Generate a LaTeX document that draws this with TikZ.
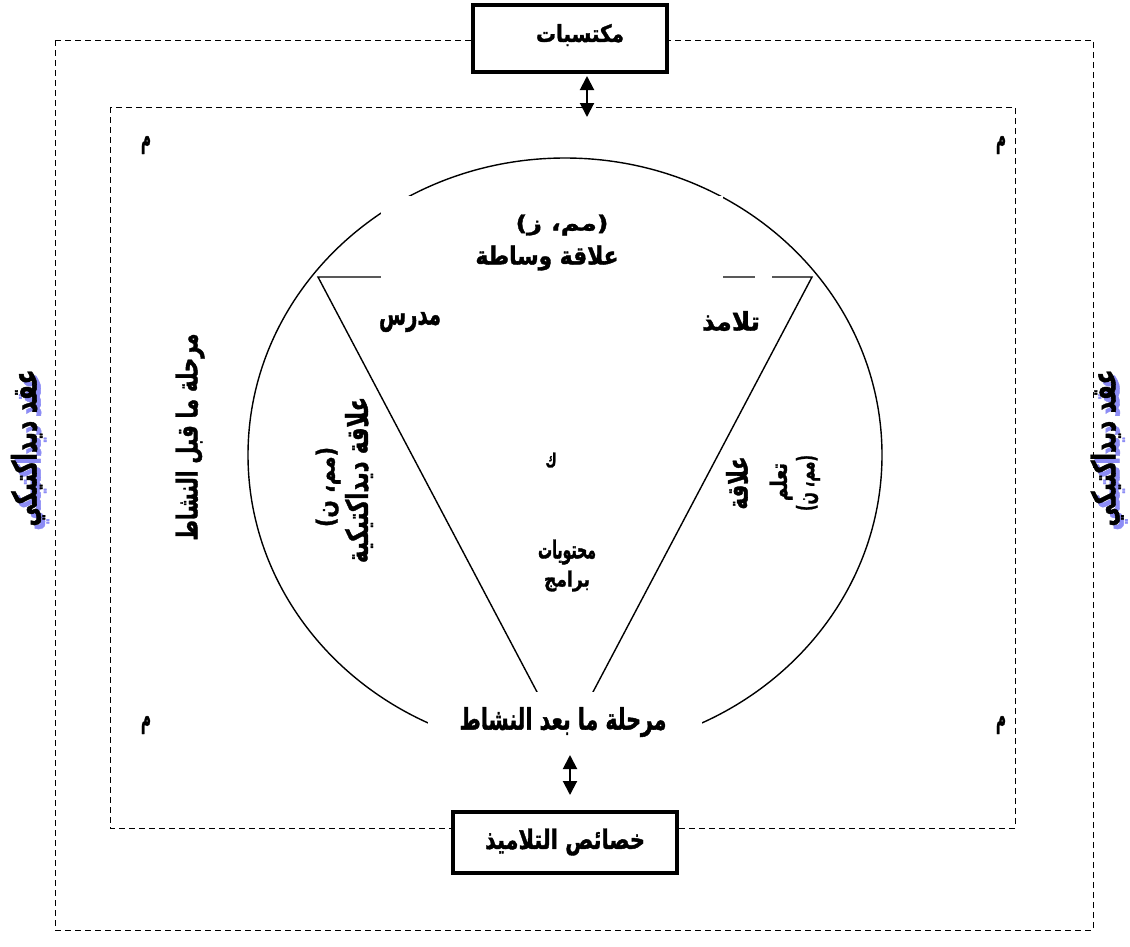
\documentclass[tikz,border=0pt]{standalone}
\usepackage{fontspec}
\usepackage{graphicx}
\usetikzlibrary{arrows.meta}
\TeXXeTstate=1
\newfontfamily\arfont[Script=Arabic, BoldFeatures={FakeBold=1.5}]{DejaVu Sans}
\definecolor{shadowblue}{RGB}{140,140,245}
\newcommand{\AR}[3]{\resizebox*{#1pt}{#2pt}{\arfont\bfseries #3}}
\begin{document}
\begin{tikzpicture}[x=1pt,y=-1pt,
  dashbox/.style={draw, line width=1pt, dash pattern=on 6pt off 4pt},
  lbl/.style={inner sep=0pt, outer sep=0pt},
  thickbox/.style={draw, line width=4pt, fill=white, inner sep=0pt},
  arr/.style={line width=2pt, {Triangle[width=14pt,length=14pt]}-{Triangle[width=14pt,length=14pt]}},
  figline/.style={line width=1.4pt},
  wipe/.style={fill=white, draw=none}]
\useasboundingbox (0,0) rectangle (1130,946);
\fill[white] (0,0) rectangle (1130,946);
% dashed frames
\draw[dashbox] (55,40) rectangle (1093,930);
\draw[dashbox] (110,107) rectangle (1015,828);
% ellipse and triangle
\draw[figline] (565,455) ellipse [x radius=317pt, y radius=297pt];
\coordinate (tl) at (318,277);
\coordinate (tr) at (812,277);
\coordinate (tb) at (565,745);
\draw[figline] (tl) -- (tr) -- (tb) -- cycle;
% gaps behind texts
\path[wipe] (381,196) rectangle (723,292);
\path[wipe] (755,270) rectangle (772,284);
\path[wipe] (428,692) rectangle (702,800);
% labels in the diagram
\node[lbl] (mz) at (562,225) {\AR{93}{21}{\beginR (مم، ز)\endR}};
\node[lbl] (wasata) at (547,258) {\AR{143}{25}{\beginR علاقة وساطة\endR}};
\node[lbl] (mudarris) at (410,322) {\AR{62}{20}{\beginR مدرس\endR}};
\node[lbl] (talamidh) at (731,321) {\AR{58}{20}{\beginR تلامذ\endR}};
\node[lbl] (kaf) at (551,460) {\AR{11}{15}{\beginR ك\endR}};
\node[lbl] (muhtawayat) at (567,552) {\AR{58}{25}{\beginR محتويات\endR}};
\node[lbl] (baramij) at (567,581) {\AR{46}{21}{\beginR برامج\endR}};
\node[lbl, rotate=90] (qabl) at (190,437) {\AR{207}{29}{\beginR مرحلة ما قبل النشاط\endR}};
\node[lbl, rotate=90] (mnl) at (328,487) {\AR{80}{25}{\beginR (مم، ن)\endR}};
\node[lbl, rotate=90] (didak) at (359,480) {\AR{166}{28}{\beginR علاقة ديداكتيكية\endR}};
\node[lbl, rotate=90] (alaqa) at (737,483) {\AR{53}{22}{\beginR علاقة\endR}};
\node[lbl, rotate=90] (taallum) at (781,482) {\AR{38}{23}{\beginR تعلم\endR}};
\node[lbl, rotate=90] (mnr) at (808,483) {\AR{56}{24}{\beginR (مم، ن)\endR}};
\node[lbl] (baad) at (563,722) {\AR{207}{30}{\beginR مرحلة ما بعد النشاط\endR}};
\node[lbl] (m1) at (146,145) {\AR{10}{18}{\beginR م\endR}};
\node[lbl] (m2) at (1001,145) {\AR{10}{18}{\beginR م\endR}};
\node[lbl] (m3) at (146,725) {\AR{10}{18}{\beginR م\endR}};
\node[lbl] (m4) at (1001,725) {\AR{10}{18}{\beginR م\endR}};
% side labels with blue shadow
\node[lbl, rotate=90, text=shadowblue] at (32,452) {\AR{157}{34}{\beginR عقد ديداكتيكي\endR}};
\node[lbl, rotate=90] (aqdl) at (28,448) {\AR{157}{34}{\beginR عقد ديداكتيكي\endR}};
\node[lbl, rotate=90, text=shadowblue] at (1111,452) {\AR{157}{33}{\beginR عقد ديداكتيكي\endR}};
\node[lbl, rotate=90] (aqdr) at (1107,448) {\AR{157}{33}{\beginR عقد ديداكتيكي\endR}};
% boxes
\node[thickbox, minimum width=194pt, minimum height=67pt] (topbox) at (570,38.5) {};
\node[lbl] (muktasabat) at (580,35) {\AR{88}{22}{\beginR مكتسبات\endR}};
\node[thickbox, minimum width=224pt, minimum height=61pt] (botbox) at (565,842.5) {};
\node[lbl] (khasais) at (565,842) {\AR{160}{27}{\beginR خصائص التلاميذ\endR}};
% arrows
\coordinate (a1) at (587,76);
\coordinate (a2) at (587,117);
\draw[arr] (a1) -- (a2);
\coordinate (b1) at (570,755);
\coordinate (b2) at (570,795);
\draw[arr] (b1) -- (b2);
\end{tikzpicture}
\end{document}
